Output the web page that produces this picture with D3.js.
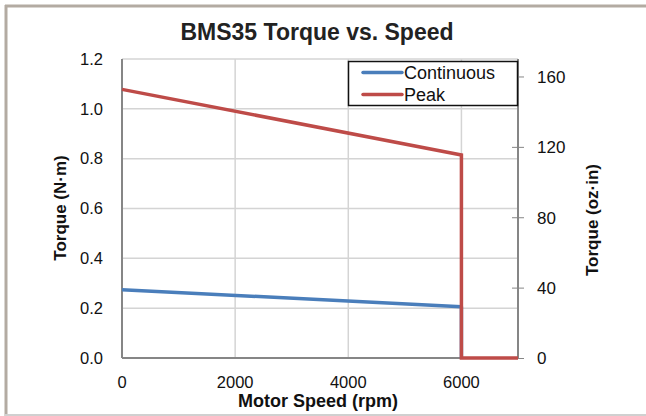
<!DOCTYPE html>
<html><head><meta charset="utf-8">
<script src="https://cdn.jsdelivr.net/npm/d3@7"></script>
<style>body{margin:0;background:#fff}svg{display:block}text{font-family:Arial,"Liberation Sans",sans-serif}</style>
</head><body>
<script>
const speedPeak = [0, 6000, 6000, 7000];
const torquePeak = [1.078, 0.815, 0, 0];
const speedCont = [0, 6000, 6000];
const torqueCont = [0.274, 0.206, 0];
const xTicks = [0, 2000, 4000, 6000];
const yTicks = [0, 0.2, 0.4, 0.6, 0.8, 1.0, 1.2];
const y2Ticks = [0, 40, 80, 120, 160];
const seriesNames = ["Continuous", "Peak"];
const seriesColors = ["#4a7ebb", "#be4b48"];

const W = 646, H = 416;
const svg = d3.select("body").append("svg").attr("width", W).attr("height", H);
// outer frame
svg.append("line").attr("x1",5).attr("x2",646).attr("y1",6).attr("y2",6).attr("stroke","#b3aba2").attr("stroke-width",3);
svg.append("line").attr("x1",6).attr("x2",6).attr("y1",5).attr("y2",416).attr("stroke","#b3aba2").attr("stroke-width",3);
svg.append("line").attr("x1",5).attr("x2",646).attr("y1",415).attr("y2",415).attr("stroke","#d0d0d0").attr("stroke-width",2);

const L = 122, R = 518, T = 59, B = 358;
const x = d3.scaleLinear().domain([0, 7000]).range([L, R]);
const y = d3.scaleLinear().domain([0, 1.2]).range([B, T]);
const y2 = d3.scaleLinear().domain([0, 1.2 * 141.612]).range([B, T]);

// gridlines
svg.append("g").selectAll("line").data(yTicks).join("line")
  .attr("x1", L).attr("x2", R).attr("y1", d => y(d)).attr("y2", d => y(d))
  .attr("stroke", "#d4d4d4").attr("stroke-width", 1.5);
svg.append("g").selectAll("line").data(xTicks.filter(d => d > 0)).join("line")
  .attr("x1", d => x(d)).attr("x2", d => x(d)).attr("y1", T).attr("y2", B)
  .attr("stroke", "#d4d4d4").attr("stroke-width", 1.5);

// axes lines
svg.append("line").attr("x1", L).attr("x2", L).attr("y1", T).attr("y2", B).attr("stroke", "#868686").attr("stroke-width", 2);
svg.append("line").attr("x1", L).attr("x2", R).attr("y1", B).attr("y2", B).attr("stroke", "#868686").attr("stroke-width", 2);

// right axis
const ay2 = svg.append("g").attr("transform", `translate(${R},0)`)
  .call(d3.axisRight(y2).tickValues(y2Ticks).tickSize(6).tickPadding(13).tickFormat(d3.format("d")));
ay2.select(".domain").attr("stroke", "#868686").attr("stroke-width", 2).attr("d", `M0,${T}V${B}`);
ay2.selectAll(".tick line").attr("stroke", "#868686").attr("x1", -6).attr("x2", 6);
ay2.selectAll(".tick text").attr("font-size", 17).attr("fill", "#111").attr("font-family", "Arial, 'Liberation Sans', sans-serif").attr("dy", "0.35em");

// left axis labels
svg.append("g").selectAll("text").data(yTicks).join("text")
  .attr("x", 103).attr("y", d => y(d)).attr("dy", "0.35em").attr("text-anchor", "end")
  .attr("font-size", 16.5).attr("fill", "#111").text(d => d.toFixed(1));
// bottom labels
svg.append("g").selectAll("text").data(xTicks).join("text")
  .attr("x", d => x(d)).attr("y", 382).attr("dy", "0.35em").attr("text-anchor", "middle")
  .attr("font-size", 16.5).attr("fill", "#111").text(d => d);

// lines
const line = d3.line().x(d => x(d[0])).y(d => y(d[1]));
svg.append("path").datum(speedCont.map((s, i) => [s, torqueCont[i]]))
  .attr("d", line).attr("fill", "none").attr("stroke", seriesColors[0]).attr("stroke-width", 3.5).attr("stroke-linejoin", "round");
svg.append("path").datum(speedPeak.map((s, i) => [s, torquePeak[i]]))
  .attr("d", line).attr("fill", "none").attr("stroke", seriesColors[1]).attr("stroke-width", 3.5).attr("stroke-linejoin", "miter");

// legend
svg.append("rect").attr("x", 348.5).attr("y", 61.5).attr("width", 169).attr("height", 44)
  .attr("fill", "#fff").attr("stroke", "#111").attr("stroke-width", 1.5);
seriesNames.forEach((n, i) => {
  const yy = 72.5 + i * 22;
  svg.append("line").attr("x1", 363).attr("x2", 402).attr("y1", yy).attr("y2", yy)
    .attr("stroke", seriesColors[i]).attr("stroke-width", 3.5).attr("stroke-linecap", "round");
  svg.append("text").attr("x", 404).attr("y", yy).attr("dy", "0.36em").attr("font-size", 18).attr("fill", "#111").text(n);
});

// titles
svg.append("text").attr("x", 317).attr("y", 40).attr("text-anchor", "middle")
  .attr("font-size", 23).attr("font-weight", "bold").attr("fill", "#222").text("BMS35 Torque vs. Speed");
svg.append("text").attr("x", 318).attr("y", 407).attr("text-anchor", "middle")
  .attr("font-size", 18).attr("font-weight", "bold").attr("fill", "#111").text("Motor Speed (rpm)");
svg.append("text").attr("transform", "translate(66,208) rotate(-90)").attr("text-anchor", "middle")
  .attr("font-size", 17).attr("font-weight", "bold").attr("fill", "#111").text("Torque (N·m)");
svg.append("text").attr("transform", "translate(598,220) rotate(-90)").attr("text-anchor", "middle")
  .attr("font-size", 17).attr("font-weight", "bold").attr("fill", "#111").text("Torque (oz·in)");
</script>
</body></html>
